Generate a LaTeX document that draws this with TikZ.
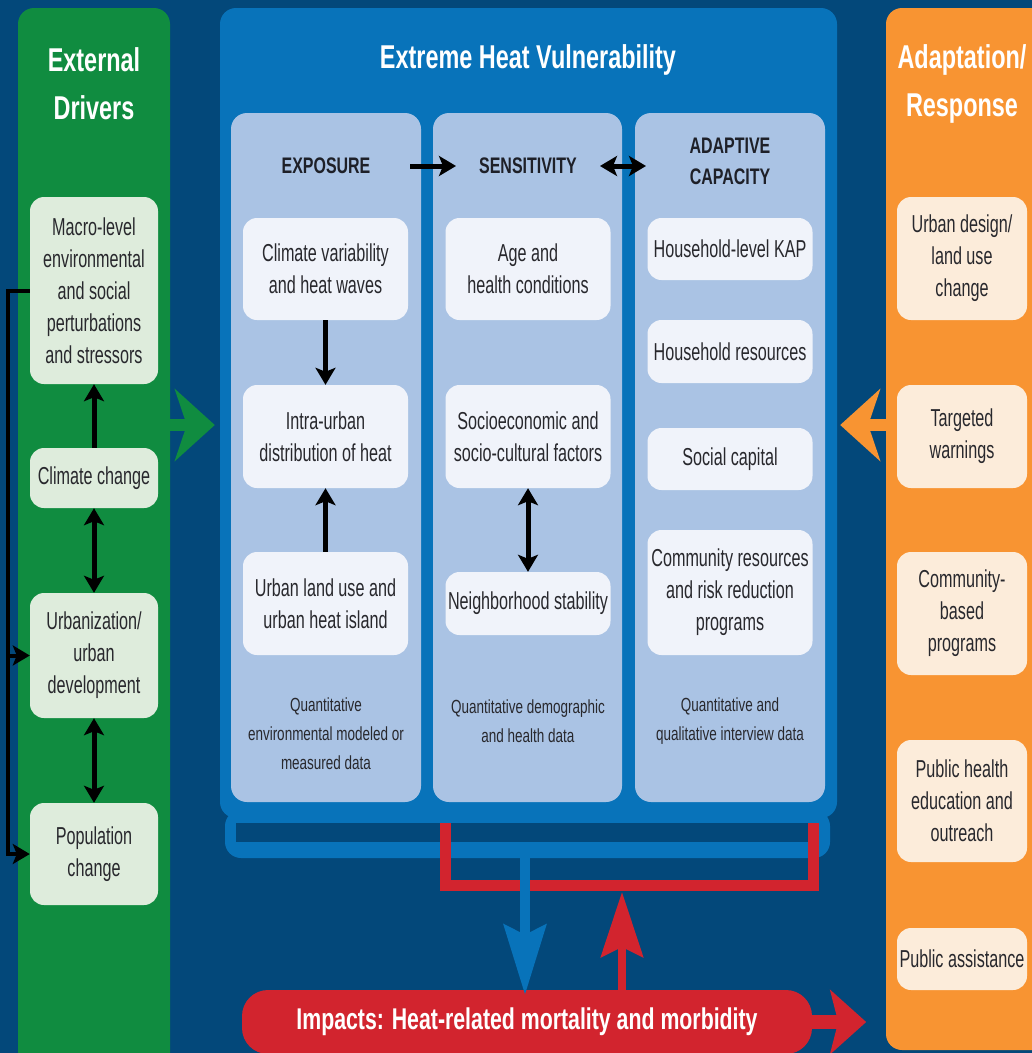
\documentclass[tikz,border=0pt]{standalone}
\usepackage{fontspec}
\setmainfont{Liberation Sans}[FakeStretch=0.66]
\newfontfamily\hdfont{Liberation Sans}[FakeStretch=0.71]
\newfontfamily\notefont{Liberation Sans}[FakeStretch=0.71]
\usetikzlibrary{arrows.meta,calc}
\definecolor{bgblue}{RGB}{3,72,122}
\definecolor{colgreen}{RGB}{16,140,64}
\definecolor{boxgreen}{RGB}{222,236,220}
\definecolor{vulblue}{RGB}{8,115,186}
\definecolor{colblue}{RGB}{170,195,228}
\definecolor{boxwhite}{RGB}{240,243,250}
\definecolor{colorange}{RGB}{248,148,50}
\definecolor{boxcream}{RGB}{252,236,218}
\definecolor{impred}{RGB}{210,36,46}
\definecolor{txt}{RGB}{40,40,45}
\definecolor{hdtxt}{RGB}{30,32,40}
\begin{document}
\begin{tikzpicture}[x=1pt,y=-1pt,
  panel/.style={rounded corners=16pt, inner sep=0pt, draw=none},
  card/.style={rounded corners=14pt, inner sep=0pt, align=center, text=txt,
    font=\fontsize{24.5}{32}\selectfont},
  gcard/.style={card, fill=boxgreen, minimum width=128pt},
  wcard/.style={card, fill=boxwhite, minimum width=165pt},
  ocard/.style={card, fill=boxcream, minimum width=130pt},
  ttl/.style={text=white, font=\hdfont\bfseries\fontsize{33}{48}\selectfont, align=center},
  hdr/.style={text=hdtxt, font=\hdfont\bfseries\fontsize{22.5}{31}\selectfont, align=center},
  note/.style={text=txt, font=\notefont\fontsize{19}{29}\selectfont, align=center},
  blk/.style={draw=black, line width=5pt, -{Stealth[length=17pt,width=20pt,inset=4pt]}},
  blkd/.style={draw=black, line width=5pt, {Stealth[length=17pt,width=20pt,inset=4pt]}-{Stealth[length=17pt,width=20pt,inset=4pt]}},
  bigarrow/.style={line width=12pt, -{Stealth[length=40pt,width=72pt,inset=12pt]}},
]
\useasboundingbox (0,0) rectangle (1032,1053);
\fill[bgblue] (0,0) rectangle (1032,1053);

% ---- columns
\node[panel, fill=colgreen, minimum width=152pt, minimum height=1070pt] (ext) at (94,543) {};
\node[panel, fill=colorange, minimum width=170pt, minimum height=1042pt] (adp) at (971,529) {};
\node[panel, fill=vulblue, minimum width=605pt, minimum height=48pt] (strip) at (527.5,834) {};
\node[panel, fill=vulblue, minimum width=617pt, minimum height=810pt] (vul) at (528.5,413) {};
\node[panel, fill=bgblue, minimum width=572pt, minimum height=19pt, rounded corners=0pt] (band) at (522,832.5) {};

\node[panel, fill=colblue, minimum width=190pt, minimum height=689pt] (c1) at (326,457.5) {};
\node[panel, fill=colblue, minimum width=189pt, minimum height=689pt] (c2) at (527.5,457.5) {};
\node[panel, fill=colblue, minimum width=190pt, minimum height=689pt] (c3) at (730,457.5) {};

% ---- titles
\node[ttl] (t1) at (94,84) {External\\Drivers};
\node[ttl] (t2) at (528,60) {Extreme Heat Vulnerability};
\node[ttl] (t3) at (962,84) {Adaptation/\\Response};

\node[hdr] (h1) at (326,166) {EXPOSURE};
\node[hdr] (h2) at (528,166) {SENSITIVITY};
\node[hdr] (h3) at (730,161) {ADAPTIVE\\CAPACITY};

% ---- external drivers
\node[gcard, minimum height=187pt] (macro) at (94,290.5) {Macro-level\\environmental\\and social\\perturbations\\and stressors};
\node[gcard, minimum height=60pt] (clim) at (94,478) {Climate change};
\node[gcard, minimum height=125pt] (urb) at (94,655.5) {Urbanization/\\urban\\development};
\node[gcard, minimum height=102pt] (pop) at (94,854) {Population\\change};

% ---- exposure
\node[wcard, minimum height=102pt] (e1) at (325.5,269) {Climate variability\\and heat waves};
\node[wcard, minimum height=103pt] (e2) at (325.5,436.5) {Intra-urban\\distribution of heat};
\node[wcard, minimum height=103pt] (e3) at (325.5,603.5) {Urban land use and\\urban heat island};
\node[note] (n1) at (326,734) {Quantitative\\environmental modeled or\\measured data};

% ---- sensitivity
\node[wcard, minimum height=102pt] (s1) at (528,269) {Age and\\health conditions};
\node[wcard, minimum height=103pt] (s2) at (528,436.5) {Socioeconomic and\\socio-cultural factors};
\node[wcard, minimum height=63pt] (s3) at (528,603.5) {Neighborhood stability};
\node[note] (n2) at (528,721) {Quantitative demographic\\and health data};

% ---- adaptive capacity
\node[wcard, minimum height=62pt] (a1) at (730,249) {Household-level KAP};
\node[wcard, minimum height=63pt] (a2) at (730,351.5) {Household resources};
\node[wcard, minimum height=62pt] (a3) at (730,459) {Social capital};
\node[wcard, minimum height=125pt] (a4) at (730,592.5) {Community resources\\and risk reduction\\programs};
\node[note] (n3) at (730,721) {Quantitative and\\qualitative interview data};

% ---- adaptation / response
\node[ocard, minimum height=123pt] (o1) at (962,258.5) {Urban design/\\land use\\change};
\node[ocard, minimum height=103pt] (o2) at (962,436.5) {Targeted\\warnings};
\node[ocard, minimum height=123pt] (o3) at (962,613.5) {Community-\\based\\programs};
\node[ocard, minimum height=122pt] (o4) at (962,801) {Public health\\education and\\outreach};
\node[ocard, minimum height=62pt] (o5) at (962,959) {Public assistance};

% ---- impacts
\node[panel, fill=impred, rounded corners=26pt, minimum width=570pt, minimum height=64pt,
  text=white, font=\hdfont\bfseries\fontsize{30}{34}\selectfont] (imp) at (527,1022) {Impacts: Heat-related mortality and morbidity};

% ---- black connectors
\draw[blk] (clim.north) -- (macro.south);
\draw[blkd] (clim.south) -- (urb.north);
\draw[blkd] (urb.south) -- (pop.north);
\draw[blk, line width=4pt, line join=miter] (macro.west) -- ++(-22,0) |- (urb.west);
\draw[blk, line width=4pt, line join=miter] (macro.west) -- ++(-22,0) |- (pop.west);

\draw[blk] (e1.south) -- (e2.north);
\draw[blk] (e3.north) -- (e2.south);
\draw[blkd] (s2.south) -- (s3.north);

\coordinate (ha1) at (410,166);
\coordinate (ha2) at (456,166);
\coordinate (hb1) at (600,166);
\coordinate (hb2) at (646,166);
\draw[blk] (ha1) -- (ha2);
\draw[blkd] (hb1) -- (hb2);

% ---- big arrows
\coordinate (gy) at (0,425);
\draw[bigarrow, colgreen] (ext.east |- gy) -- ([xshift=-5pt]vul.west |- gy);
\draw[bigarrow, colorange] (adp.west |- gy) -- ([xshift=3pt]vul.east |- gy);

\coordinate (rb1) at (445,823);
\coordinate (rb2) at (813,823);
\draw[impred, line width=11pt, line join=miter] (rb1) -- ++(0,62) -| (rb2);

\coordinate (bx) at (525,0);
\coordinate (rx) at (622,0);
\coordinate (rtop) at (622,892);
\draw[vulblue, line width=10pt, -{Stealth[length=70pt,width=42pt,inset=10pt]}] (strip.south -| bx) -- ([yshift=-5pt]imp.north -| bx);
\draw[impred, line width=8pt, -{Stealth[length=65pt,width=42pt,inset=10pt]}] (imp.north -| rx) -- (rtop);
\draw[impred, line width=14pt, -{Stealth[length=36pt,width=64pt,inset=8pt]}] ([xshift=-4pt]imp.east) -- ++(58,0);
\end{tikzpicture}
\end{document}
